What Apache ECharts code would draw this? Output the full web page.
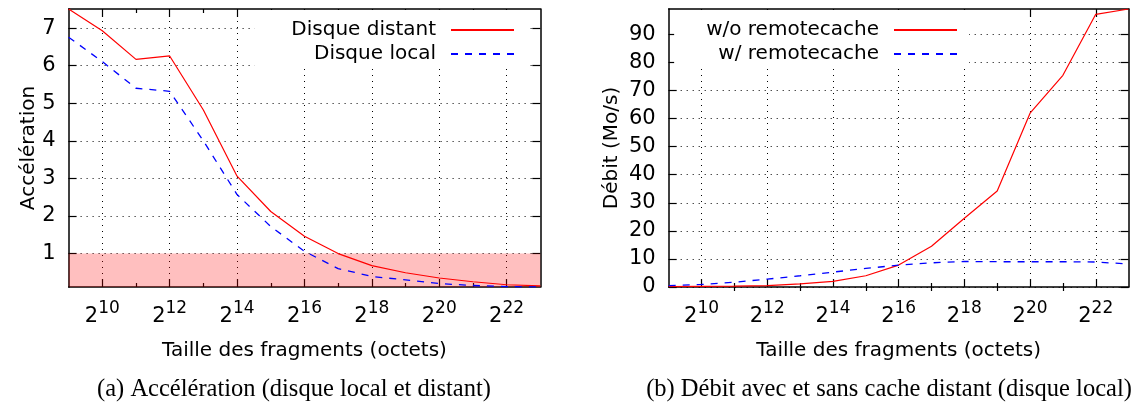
<!DOCTYPE html>
<html>
<head>
<meta charset="utf-8">
<script src="https://cdn.jsdelivr.net/npm/echarts@6/dist/echarts.min.js"></script>
<style>
html,body{margin:0;padding:0;background:#fff;}
#chart{width:1134px;height:407px;}
</style>
</head>
<body>
<div id="chart"></div>
<script>
// ---- data (x = log2 of fragment size in bytes) ----
const exponents = [9, 10, 11, 12, 13, 14, 15, 16, 17, 18, 19, 20, 21, 22, 23];
const accelDistant = [7.51, 6.93, 6.17, 6.26, 4.82, 3.06, 2.12, 1.46, 1.0, 0.68, 0.49, 0.35, 0.25, 0.17, 0.14];
const accelLocal   = [6.76, 6.11, 5.40, 5.32, 4.0, 2.57, 1.72, 1.06, 0.60, 0.39, 0.30, 0.20, 0.15, 0.12, 0.11];
const debitSansCache = [0.1, 0.2, 0.3, 0.5, 1.1, 2.0, 4.0, 7.8, 14.5, 24.5, 34.2, 61.9, 75.4, 97.1, 99.0];
const debitAvecCache = [0.5, 0.9, 1.7, 2.8, 4.0, 5.3, 6.6, 7.8, 8.6, 9.1, 9.0, 9.0, 9.0, 8.9, 8.2];
const majorExp = [10, 12, 14, 16, 18, 20, 22];
const minorExp = [11, 13, 15, 17, 19, 21];
const accelTicks = [1, 2, 3, 4, 5, 6, 7];
const debitTicks = [0, 10, 20, 30, 40, 50, 60, 70, 80, 90];
const accelRange = [0.11, 7.51];
const debitRange = [0, 99];
const speedupThreshold = 1;
const seriesNames = ['Disque distant', 'Disque local', 'w/o remotecache', 'w/ remotecache'];
const axisTitles = ['Taille des fragments (octets)', 'Accélération', 'Débit (Mo/s)'];
const captions = ['(a) Accélération (disque local et distant)', '(b) Débit avec et sans cache distant (disque local)'];

const FONT = 'DejaVu Sans';
const pair = (xs, ys) => xs.map((x, i) => [x, ys[i]]);

function xAxes(gridIndex) {
  const base = {type: 'value', gridIndex, min: exponents[0], max: exponents[exponents.length - 1]};
  const line = {show: true, onZero: false, lineStyle: {color: '#000', width: 1.5}};
  return [
    Object.assign({}, base, {
      position: 'bottom',
      name: axisTitles[0], nameLocation: 'middle', nameGap: 54,
      nameTextStyle: {fontFamily: FONT, fontSize: 20, color: '#000'},
      axisLine: line,
      axisTick: {show: true, inside: true, length: 8, customValues: majorExp, lineStyle: {color: '#000', width: 1.2}},
      axisLabel: {show: true, margin: 13, customValues: majorExp,
        formatter: v => '{b|2}{s|' + v + '}',
        rich: {
          b: {fontFamily: FONT, fontSize: 21, color: '#000', lineHeight: 27, verticalAlign: 'bottom'},
          s: {fontFamily: FONT, fontSize: 17, color: '#000', lineHeight: 17, verticalAlign: 'top'}
        }},
      splitLine: {show: true, lineStyle: {color: '#000', width: 1, type: [1, 5]}}
    }),
    Object.assign({}, base, {
      position: 'bottom', axisLine: {show: false},
      axisTick: {show: true, inside: true, length: 4, customValues: minorExp, lineStyle: {color: '#000', width: 1.2}},
      axisLabel: {show: false}, splitLine: {show: false}
    }),
    Object.assign({}, base, {
      position: 'top', axisLine: line,
      axisTick: {show: true, inside: true, length: 8, customValues: majorExp, lineStyle: {color: '#000', width: 1.2}},
      axisLabel: {show: false}, splitLine: {show: false}
    }),
    Object.assign({}, base, {
      position: 'top', axisLine: {show: false},
      axisTick: {show: true, inside: true, length: 4, customValues: minorExp, lineStyle: {color: '#000', width: 1.2}},
      axisLabel: {show: false}, splitLine: {show: false}
    })
  ];
}

function yAxes(gridIndex, range, ticks, title, gap) {
  const base = {type: 'value', gridIndex, min: range[0], max: range[1]};
  const line = {show: true, onZero: false, lineStyle: {color: '#000', width: 1.5}};
  return [
    Object.assign({}, base, {
      position: 'left',
      name: title, nameLocation: 'middle', nameGap: gap,
      nameTextStyle: {fontFamily: FONT, fontSize: 20, color: '#000'},
      axisLine: line,
      axisTick: {show: true, inside: true, length: 8, customValues: ticks, lineStyle: {color: '#000', width: 1.2}},
      axisLabel: {show: true, margin: 13, customValues: ticks, fontFamily: FONT, fontSize: 21, color: '#000'},
      splitLine: {show: true, lineStyle: {color: '#000', width: 1, type: [1, 5]}}
    }),
    Object.assign({}, base, {
      position: 'right', axisLine: line,
      axisTick: {show: true, inside: true, length: 8, customValues: ticks, lineStyle: {color: '#000', width: 1.2}},
      axisLabel: {show: false}, splitLine: {show: false}
    })
  ];
}

const solidRed = {color: '#ff0000', width: 1.2, type: 'solid'};
const dashBlue = {color: '#0000ff', width: 1.3, type: [7, 7]};

function legend(names, right, padding) {
  return {
    data: names, orient: 'vertical', align: 'right', right: right, top: 10,
    itemWidth: 63, itemHeight: 14, itemGap: 4,
    backgroundColor: '#fff', padding: padding, selectedMode: false,
    itemStyle: {opacity: 0},
    textStyle: {fontFamily: FONT, fontSize: 20, color: '#000', padding: [0, 10, 0, 0]}
  };
}

const captionStyle = {fontFamily: 'Liberation Serif', fontSize: 24.5, fontWeight: 'normal', color: '#000'};

const option = {
  animation: false,
  backgroundColor: '#fff',
  title: [
    {text: captions[0], left: 289, top: 372, textAlign: 'center', textStyle: captionStyle},
    {text: captions[1], left: 884, top: 372, textAlign: 'center', textStyle: captionStyle}
  ],
  legend: [
    legend([seriesNames[0], seriesNames[1]], 604, [10, 15, 4, 37]),
    legend([seriesNames[2], seriesNames[3]], 165, [10, 11, 4, 32])
  ],
  grid: [
    {left: 68.6, right: 593.7, top: 9, bottom: 120},
    {left: 668.7, right: 5.4, top: 9, bottom: 120}
  ],
  xAxis: xAxes(0).concat(xAxes(1)),
  yAxis: yAxes(0, accelRange, accelTicks, axisTitles[1], 30).concat(yAxes(1, debitRange, debitTicks, axisTitles[2], 47)),
  series: [
    {name: seriesNames[0], type: 'line', xAxisIndex: 0, yAxisIndex: 0, data: pair(exponents, accelDistant),
     symbol: 'none', lineStyle: solidRed, itemStyle: {color: '#ff0000'}, z: 3,
     markArea: {silent: true, itemStyle: {color: 'rgba(255,0,0,0.25)'},
       data: [[{xAxis: exponents[0], yAxis: accelRange[0]}, {xAxis: exponents[exponents.length - 1], yAxis: speedupThreshold}]]}},
    {name: seriesNames[1], type: 'line', xAxisIndex: 0, yAxisIndex: 0, data: pair(exponents, accelLocal),
     symbol: 'none', lineStyle: dashBlue, itemStyle: {color: '#0000ff'}, z: 3},
    {name: seriesNames[2], type: 'line', xAxisIndex: 4, yAxisIndex: 2, data: pair(exponents, debitSansCache),
     symbol: 'none', lineStyle: solidRed, itemStyle: {color: '#ff0000'}, z: 3},
    {name: seriesNames[3], type: 'line', xAxisIndex: 4, yAxisIndex: 2, data: pair(exponents, debitAvecCache),
     symbol: 'none', lineStyle: dashBlue, itemStyle: {color: '#0000ff'}, z: 3}
  ]
};

const chart = echarts.init(document.getElementById('chart'), null, {renderer: 'canvas'});
chart.setOption(option);
</script>
</body>
</html>
